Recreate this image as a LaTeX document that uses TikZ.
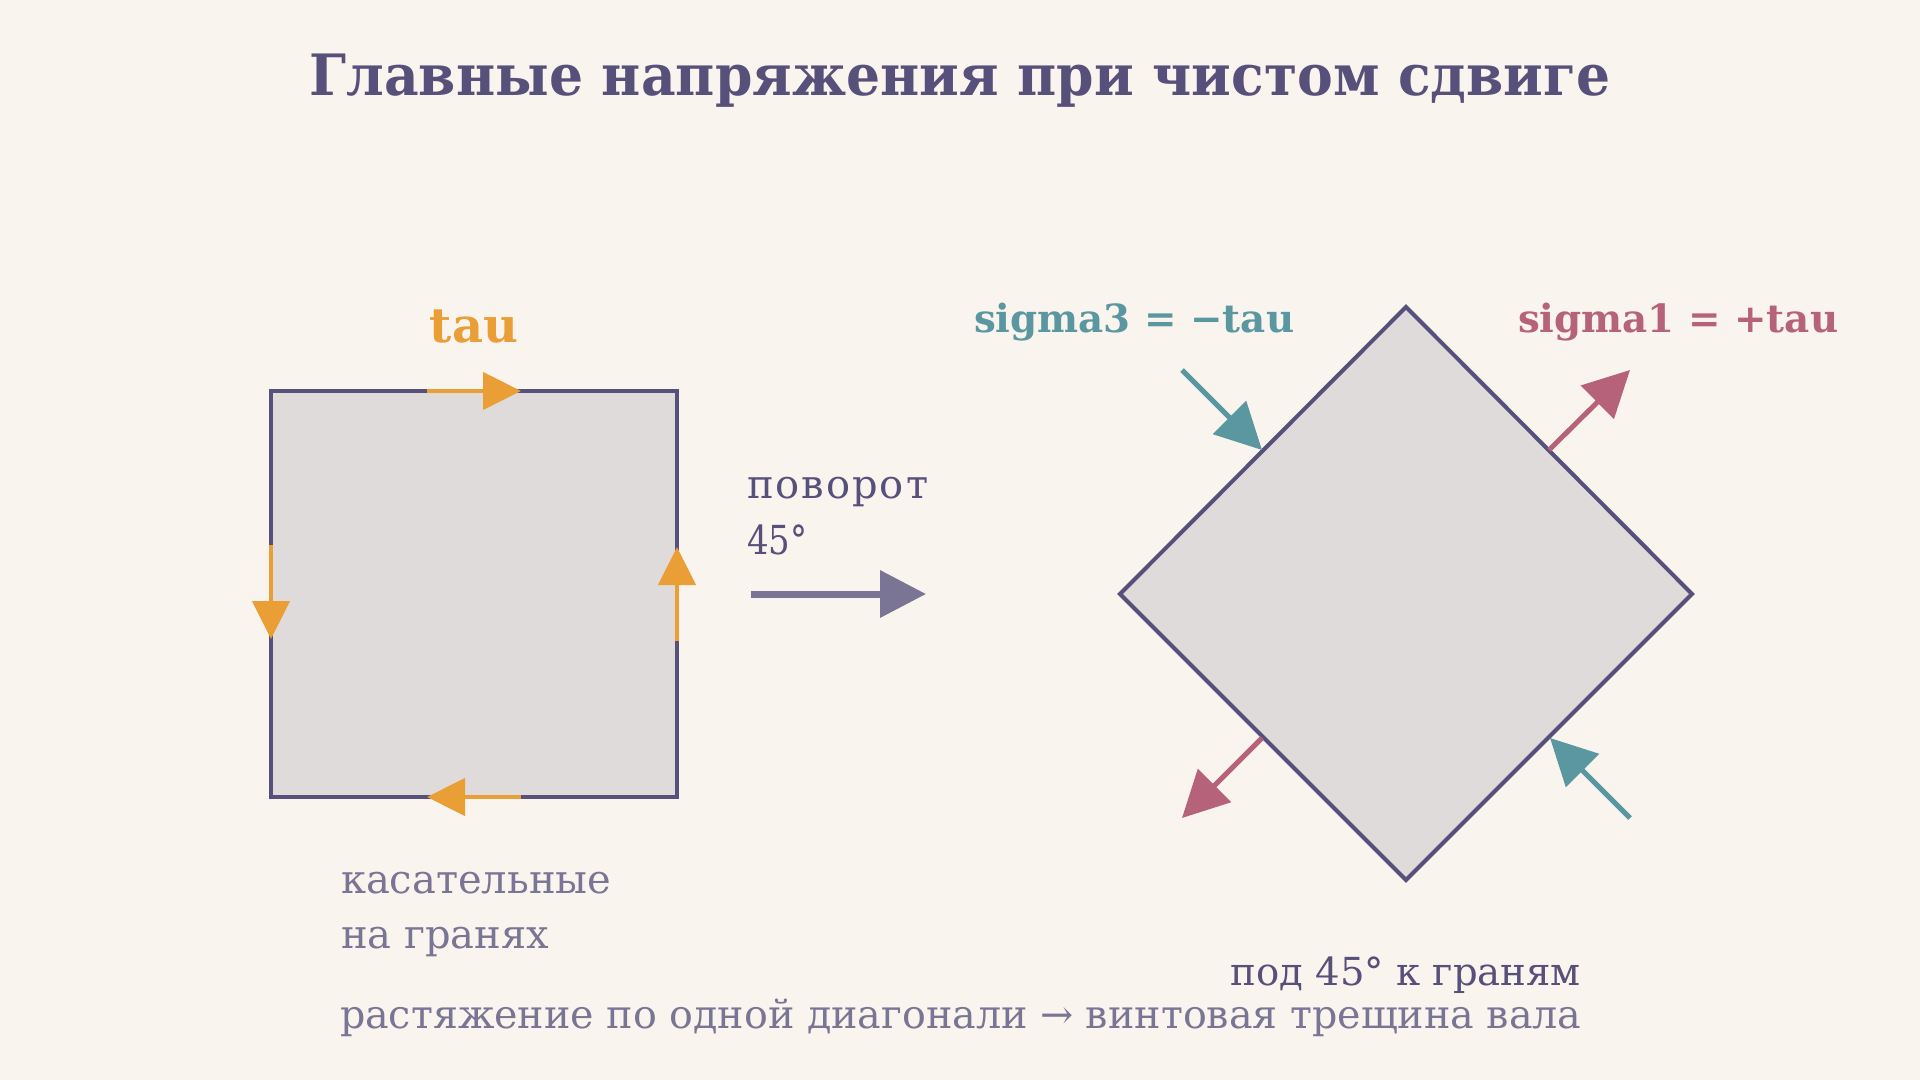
\documentclass[tikz,border=0pt]{standalone}
\usepackage{fontspec}
\usepackage{graphicx}
\setmainfont{DejaVu Serif}
\usetikzlibrary{arrows.meta}
\definecolor{bgc}{HTML}{FAF4EE}
\definecolor{ink}{HTML}{57507A}
\definecolor{softink}{HTML}{7A7594}
\definecolor{facec}{HTML}{E0DBDB}
\definecolor{orng}{HTML}{E99E36}
\definecolor{tealc}{HTML}{5A97A0}
\definecolor{pinkc}{HTML}{B5627A}
\tikzset{
  elembox/.style={draw=ink, line width=2pt, fill=facec, line join=miter},
  sheararrow/.style={draw=orng, line width=2.25pt, -{Triangle[length=19pt,width=18.5pt]}, orng},
  pullarrow/.style={draw=pinkc, line width=2.5pt, -{Triangle[length=23pt,width=23pt]}, pinkc},
  pusharrow/.style={draw=tealc, line width=2.5pt, -{Triangle[length=23pt,width=23pt]}, tealc},
  rotarrow/.style={draw=softink, line width=3.5pt, -{Triangle[length=23pt,width=23pt]}, softink},
  lbl/.style={inner sep=0pt, outer sep=0pt},
}
\begin{document}
\begin{tikzpicture}[x=0.5pt,y=-0.5pt]
\fill[bgc] (0,0) rectangle (1920,1080);
\useasboundingbox (0,0) rectangle (1920,1080);

% title
\node[lbl, anchor=base, text=ink, font=\bfseries\fontsize{28.5pt}{32pt}\selectfont] (title) at (960,96) {\scalebox{0.94}[1]{Главные напряжения при чистом сдвиге}};

% square element
\node[elembox, minimum width=203pt, minimum height=203pt, inner sep=0pt] (sq) at (474,594) {};
\coordinate (tA) at (427,391);
\coordinate (tB) at (521,391);
\coordinate (bA) at (521,797);
\coordinate (bB) at (427,797);
\coordinate (lA) at (271,545);
\coordinate (lB) at (271,639);
\coordinate (rA) at (677,641);
\coordinate (rB) at (677,547);
\draw[sheararrow] (tA) -- (tB);
\draw[sheararrow] (bA) -- (bB);
\draw[sheararrow] (lA) -- (lB);
\draw[sheararrow] (rA) -- (rB);
\node[lbl, anchor=base, text=orng, font=\bfseries\fontsize{24pt}{28pt}\selectfont] (taulbl) at (474,343) {tau};

% rotation arrow
\coordinate (rotA) at (751,594);
\coordinate (rotB) at (926,594);
\draw[rotarrow] (rotA) -- (rotB);
\node[lbl, anchor=base west, text=ink, font=\fontsize{20pt}{24pt}\selectfont\addfontfeature{LetterSpace=5}] (rot1) at (747,498) {поворот};
\node[lbl, anchor=base west, text=ink, font=\fontsize{20pt}{24pt}\selectfont] (rot2) at (747,554) {\scalebox{0.85}[1]{45°}};

% diamond element
\coordinate (dT) at (1406,307);
\coordinate (dR) at (1692,594);
\coordinate (dB) at (1406,880);
\coordinate (dL) at (1120,594);
\draw[elembox] (dT) -- (dR) -- (dB) -- (dL) -- cycle;

% principal stresses
\coordinate (c1s) at (1182,370);
\coordinate (c1e) at (1262,450);
\coordinate (c2s) at (1630,818);
\coordinate (c2e) at (1550,738);
\coordinate (p1s) at (1549,450);
\coordinate (p1e) at (1630,370);
\coordinate (p2s) at (1262,738);
\coordinate (p2e) at (1182,818);
\draw[pusharrow] (c1s) -- (c1e);
\draw[pusharrow] (c2s) -- (c2e);
\draw[pullarrow] (p1s) -- (p1e);
\draw[pullarrow] (p2s) -- (p2e);

\node[lbl, anchor=base west, text=tealc, font=\bfseries\fontsize{19.4pt}{23pt}\selectfont] (s3lbl) at (974,333) {sigma3 = −tau};
\node[lbl, anchor=base west, text=pinkc, font=\bfseries\fontsize{19.4pt}{23pt}\selectfont] (s1lbl) at (1518,333) {sigma1 = +tau};

% captions
\node[lbl, anchor=base west, text=softink, font=\fontsize{20pt}{24pt}\selectfont] (cap1) at (341,893) {касательные};
\node[lbl, anchor=base west, text=softink, font=\fontsize{20pt}{24pt}\selectfont] (cap2) at (341,948) {на гранях};
\node[lbl, anchor=base east, text=ink, font=\fontsize{19.3pt}{24pt}\selectfont] (cap3) at (1581,985) {под 45° к граням};
\node[lbl, anchor=base west, text=softink, font=\fontsize{19.8pt}{24pt}\selectfont] (cap4) at (340,1028) {растяжение по одной диагонали → винтовая трещина вала};
\end{tikzpicture}
\end{document}
